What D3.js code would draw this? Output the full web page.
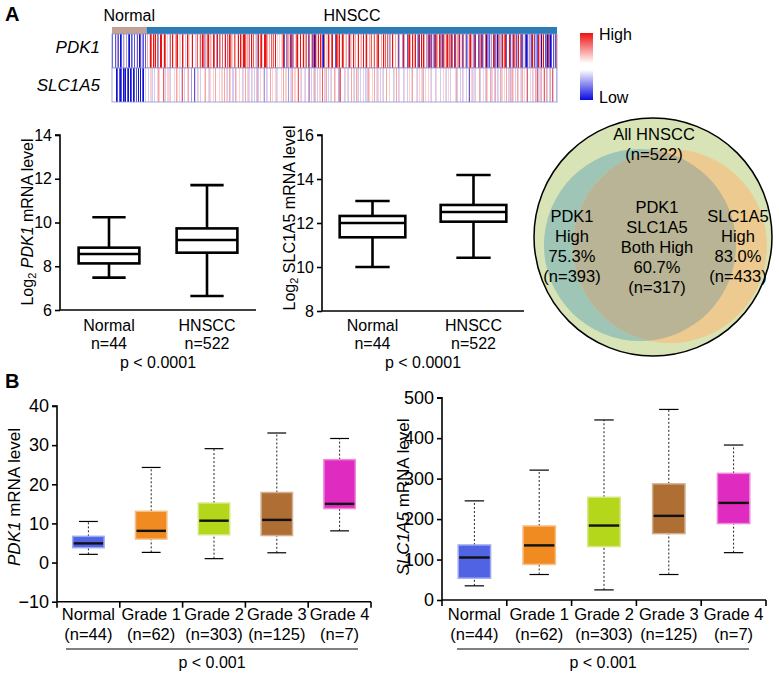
<!DOCTYPE html>
<html><head><meta charset="utf-8">
<script src="https://cdn.jsdelivr.net/npm/d3@7"></script>
<style>body{margin:0;background:#fff} svg{font-family:"Liberation Sans",Arial,sans-serif}</style>
</head><body><svg id="c" width="779" height="679"></svg>
<script>
// ---------- DATA ----------
const heatGroups = ["Normal", "HNSCC"];
const heatGenes = ["PDK1", "SLC1A5"];
// heatmap values per sample, 0 = low (blue), 4 = mid (white), 8 = high (red)
const pdk1Normal = "1424152414 0414251424 1404152414 2514041524 1414";
const slcNormal  = "4434401041 0414014041 0440104014 0140410414 0434";
const pdk1Tumor = "5645847485 6847424885 4586745453 7485546478 4575486543 4786548584 4635784575 4872645784 5654487428 8475647453 " +
  "8474587635 4786458548 6548874563 7848574456 5284768548 4876546478 5748645485 4567814782 6518172845 7815486458 " +
  "5867418746 8170846584 7861407457 5864578446 1874684548 7458642486 5478564758 4856487468 5746587457 8467854468 " +
  "4857647528 6487546475 1648428164 4157864185 6784215848 5186472618 1715261874 6487528164 5786172857 4817562815 " +
  "5187461725 7816527184 4617285164 1707261524 0817160725 6285178164 4817528716 1628471615 5170157261 8051627186 " +
  "1605814170 6170814158 17";
const slcTumor = "4434535344 3445565443 4754345535 3443454265 4544374534 4356445244 1454365434 5445634453 3544354644 4453455436 " +
  "4534465443 3456544354 4355467453 5443545343 4634574452 4435344645 5445735434 4543645534 2445364455 4537454344 " +
  "5434465243 4456354345 3547443564 4345534463 5443627454 4354453544 6445346453 4534454435 3465434546 4453544345 " +
  "5344364453 4445354634 3546443454 4354545364 4445343545 3464534454 4534454354 4443144545 5345443454 4454634453 " +
  "4345443545 1445354534 4546342454 4365444635 5436343545 6354454634 3564365443 4635453364 5463743454 3654634735 " +
  "4364537463 5436447345 43";

const aCats = ["Normal", "HNSCC"];
const aCounts = ["n=44", "n=522"];
const aPValue = "p < 0.0001";
// [min, q1, median, q3, max]
const pdk1A = [[7.48, 8.13, 8.56, 8.85, 10.24], [6.64, 8.62, 9.2, 9.73, 11.71]];
const slcA = [[10.0, 11.35, 12.0, 12.32, 13.0], [10.42, 12.06, 12.5, 12.82, 14.18]];
const pdk1ATicks = [6, 8, 10, 12, 14];
const slcATicks = [8, 10, 12, 14, 16];

const vennLabels = {
  all: ["All HNSCC", "(n=522)"],
  pdk1: ["PDK1", "High", "75.3%", "(n=393)"],
  both: ["PDK1", "SLC1A5", "Both High", "60.7%", "(n=317)"],
  slc: ["SLC1A5", "High", "83.0%", "(n=433)"]
};
const vennCounts = { all: 522, pdk1: 393, slc: 433, both: 317 };

const bCats = ["Normal", "Grade 1", "Grade 2", "Grade 3", "Grade 4"];
const bCounts = ["(n=44)", "(n=62)", "(n=303)", "(n=125)", "(n=7)"];
const bPValue = "p < 0.001";
const bColors = ["#4f63e3", "#f08b22", "#b4d61b", "#ae6e34", "#df2bbf"];
const pdk1B = [[2.1, 3.8, 4.9, 6.7, 10.5], [2.6, 6.0, 8.1, 13.1, 24.3], [1.0, 7.1, 10.7, 15.2, 29.1], [2.5, 6.9, 10.9, 17.9, 33.1], [8.1, 13.8, 15.0, 26.3, 31.7]];
const slcB = [[35, 54, 105, 136, 245], [63, 88, 135, 183, 321], [25, 132, 184, 254, 445], [63, 164, 208, 287, 471], [117, 189, 240, 313, 383]];
const pdk1BTicks = [-10, 0, 10, 20, 30, 40];
const slcBTicks = [0, 100, 200, 300, 400, 500];

// ---------- DRAW ----------
const svg = d3.select("#c");
const clean = s => s.replace(/\s/g, "").split("").map(Number);

// Panel letters
svg.append("text").attr("x", 5).attr("y", 21).attr("font-size", 20).attr("font-weight", "bold").text("A");
svg.append("text").attr("x", 5).attr("y", 388).attr("font-size", 20).attr("font-weight", "bold").text("B");

// Heatmap
(function () {
  const nNormal = clean(pdk1Normal).length;
  const rows = [clean(pdk1Normal).concat(clean(pdk1Tumor)), clean(slcNormal).concat(clean(slcTumor))];
  const nTotal = rows[0].length;
  const hx = d3.scaleLinear().domain([0, nTotal]).range([112, 557]);
  const hy = d3.scaleBand().domain(heatGenes).range([34, 102]);
  const hcol = d3.scaleLinear().domain([0, 2, 4, 6, 8]).range(["#1212cc", "#9c9cf2", "#ffffff", "#f7a6a6", "#e81414"]);
  const g = svg.append("g");
  g.append("rect").attr("x", hx(0)).attr("y", 27).attr("width", hx(nNormal) - hx(0)).attr("height", 7).attr("fill", "#c2a197");
  g.append("rect").attr("x", hx(nNormal)).attr("y", 27).attr("width", hx(nTotal) - hx(nNormal)).attr("height", 7).attr("fill", "#2a7bb8");
  g.append("text").attr("x", (hx(0) + hx(nNormal)) / 2).attr("y", 21).attr("text-anchor", "middle").attr("font-size", 16).text(heatGroups[0]);
  g.append("text").attr("x", 352).attr("y", 21).attr("text-anchor", "middle").attr("font-size", 16).text(heatGroups[1]);
  heatGenes.forEach((gene, r) => {
    g.append("g").attr("shape-rendering", "crispEdges").selectAll("rect").data(rows[r]).join("rect")
      .attr("x", (d, i) => hx(i)).attr("width", (d, i) => hx(i + 1) - hx(i) + 0.4)
      .attr("y", hy(gene)).attr("height", hy.bandwidth()).attr("fill", d => hcol(d));
    g.append("rect").attr("x", hx(0)).attr("y", hy(gene)).attr("width", hx(nTotal) - hx(0)).attr("height", hy.bandwidth())
      .attr("fill", "none").attr("stroke", "#8a96cc").attr("stroke-width", 0.8);
  });
  g.append("text").attr("x", 100).attr("y", 53).attr("text-anchor", "end").attr("font-size", 17).attr("font-style", "italic").text(heatGenes[0]);
  g.append("text").attr("x", 100).attr("y", 91).attr("text-anchor", "end").attr("font-size", 17).attr("font-style", "italic").text(heatGenes[1]);
  // legend
  const grad = svg.append("defs").append("linearGradient").attr("id", "lg").attr("x1", 0).attr("y1", 0).attr("x2", 0).attr("y2", 1);
  [[0, "#ee1111"], [0.45, "#ffffff"], [0.55, "#ffffff"], [1, "#0a0ae0"]].forEach(s => grad.append("stop").attr("offset", s[0]).attr("stop-color", s[1]));
  g.append("rect").attr("x", 580).attr("y", 33).attr("width", 13).attr("height", 67).attr("fill", "url(#lg)");
  g.append("text").attr("x", 599).attr("y", 40).attr("font-size", 16).text("High");
  g.append("text").attr("x", 599).attr("y", 103).attr("font-size", 16).text("Low");
})();

// Panel A box plots
function boxA(cfg) {
  const g = svg.append("g");
  const x = d3.scaleBand().domain(aCats).range([cfg.x0, cfg.x1]);
  const y = d3.scaleLinear().domain(d3.extent(cfg.ticks)).range([cfg.yb, cfg.yt]);
  const yAxis = d3.axisLeft(y).tickValues(cfg.ticks).tickSize(5).tickPadding(3);
  const ga = g.append("g").attr("transform", `translate(${cfg.x0},0)`).call(yAxis);
  ga.selectAll("path,line").attr("stroke", "#000").attr("stroke-width", 1.6);
  ga.select(".domain").attr("d", `M-5,${y(cfg.ticks[cfg.ticks.length-1])}H0V${cfg.yb}`);
  ga.selectAll("text").attr("font-size", 16).attr("font-family", "Liberation Sans, Arial, sans-serif").attr("fill", "#000");
  g.append("line").attr("x1", cfg.x0).attr("x2", cfg.x1).attr("y1", cfg.yb).attr("y2", cfg.yb).attr("stroke", "#000").attr("stroke-width", 1.6);
  const bw = x.bandwidth() * cfg.bwf, cw = x.bandwidth() * 0.34;
  cfg.data.forEach((d, i) => {
    const cx = x(aCats[i]) + x.bandwidth() / 2;
    const ln = (x1, y1, x2, y2) => g.append("line").attr("x1", x1).attr("y1", y1).attr("x2", x2).attr("y2", y2).attr("stroke", "#000").attr("stroke-width", 2.6);
    ln(cx, y(d[0]), cx, y(d[1])); ln(cx, y(d[3]), cx, y(d[4]));
    ln(cx - cw / 2, y(d[0]), cx + cw / 2, y(d[0])); ln(cx - cw / 2, y(d[4]), cx + cw / 2, y(d[4]));
    g.append("rect").attr("x", cx - bw / 2).attr("y", y(d[3])).attr("width", bw).attr("height", y(d[1]) - y(d[3]))
      .attr("fill", "#fff").attr("stroke", "#000").attr("stroke-width", 2.6);
    ln(cx - bw / 2, y(d[2]), cx + bw / 2, y(d[2]));
    g.append("text").attr("x", cx).attr("y", 331).attr("text-anchor", "middle").attr("font-size", 16).text(aCats[i]);
    g.append("text").attr("x", cx).attr("y", 349).attr("text-anchor", "middle").attr("font-size", 16).text(aCounts[i]);
  });
  g.append("text").attr("x", (x.range()[0] + x.range()[1]) / 2).attr("y", 368).attr("text-anchor", "middle").attr("font-size", 16).text(aPValue);
  const t = g.append("text").attr("transform", `translate(${cfg.lx},${cfg.ly}) rotate(-90)`).attr("text-anchor", "middle").attr("font-size", 16);
  t.append("tspan").text("Log");
  t.append("tspan").attr("font-size", 11).attr("dy", 3).text("2");
  t.append("tspan").attr("dy", -3).text(" ");
  t.append("tspan").attr("font-style", cfg.italic ? "italic" : "normal").text(cfg.gene);
  t.append("tspan").text(" mRNA level");
}
boxA({ x0: 60, x1: 256, yt: 135, yb: 310, ticks: pdk1ATicks, data: pdk1A, bwf: 0.62, lx: 33, ly: 222, gene: "PDK1", italic: true });
boxA({ x0: 322, x1: 524, yt: 135, yb: 311, ticks: slcATicks, data: slcA, bwf: 0.65, lx: 295, ly: 218, gene: "SLC1A5", italic: false });

// Venn
(function () {
  const g = svg.append("g");
  const rScale = d3.scaleSqrt().domain([0, vennCounts.all]).range([0, 119]);
  const outer = { cx: 653, cy: 237, r: rScale(vennCounts.all) };
  const blue = { cx: 640, cy: 245, r: rScale(vennCounts.pdk1) * 0.93 };
  const orng = { cx: 670, cy: 246, r: rScale(vennCounts.slc) * 0.895 };
  g.append("circle").attr("cx", outer.cx).attr("cy", outer.cy).attr("r", outer.r).attr("fill", "#d8e4b6");
  g.append("circle").attr("cx", blue.cx).attr("cy", blue.cy).attr("r", blue.r).attr("fill", "#9ec5b5");
  g.append("circle").attr("cx", orng.cx).attr("cy", orng.cy).attr("r", orng.r).attr("fill", "#edca90");
  g.append("clipPath").attr("id", "cpO").append("circle").attr("cx", orng.cx).attr("cy", orng.cy).attr("r", orng.r);
  g.append("circle").attr("cx", blue.cx).attr("cy", blue.cy).attr("r", blue.r).attr("fill", "#b8b495").attr("clip-path", "url(#cpO)");
  g.append("circle").attr("cx", outer.cx).attr("cy", outer.cy).attr("r", outer.r).attr("fill", "none").attr("stroke", "#000").attr("stroke-width", 1.5);
  const lines = (arr, x, y0) => arr.forEach((s, i) => g.append("text").attr("x", x).attr("y", y0 + i * 20).attr("text-anchor", "middle").attr("font-size", 16.5).text(s));
  lines(vennLabels.all, 654, 140);
  lines(vennLabels.pdk1, 572, 222);
  lines(vennLabels.both, 657, 213);
  lines(vennLabels.slc, 738, 222);
})();

// Panel B box plots
function boxB(cfg) {
  const g = svg.append("g");
  const x = d3.scaleBand().domain(bCats).range([cfg.x0, cfg.x1]);
  const y = d3.scaleLinear().domain(d3.extent(cfg.ticks)).range([cfg.yb, cfg.yt]);
  const ga = g.append("g").attr("transform", `translate(${cfg.x0},0)`).call(d3.axisLeft(y).tickValues(cfg.ticks).tickSize(5).tickPadding(3));
  ga.selectAll("path,line").attr("stroke", "#000").attr("stroke-width", 1.6);
  ga.select(".domain").attr("d", `M-5,${cfg.yt}H0V${cfg.yb}`);
  ga.selectAll("text").attr("font-size", 18).attr("font-family", "Liberation Sans, Arial, sans-serif").attr("fill", "#000");
  const gx = g.append("g").attr("transform", `translate(0,${cfg.yb})`);
  gx.append("line").attr("x1", cfg.x0).attr("x2", cfg.x1).attr("stroke", "#000").attr("stroke-width", 1.6);
  bCats.concat([null]).forEach(c => {
    const xx = c ? x(c) : cfg.x1;
    gx.append("line").attr("x1", xx).attr("x2", xx).attr("y1", 0).attr("y2", 6).attr("stroke", "#000").attr("stroke-width", 1.6);
  });
  const bw = x.bandwidth() * 0.5, cw = x.bandwidth() * 0.3;
  cfg.data.forEach((d, i) => {
    const cx = x(bCats[i]) + x.bandwidth() / 2;
    g.append("line").attr("x1", cx).attr("x2", cx).attr("y1", y(d[0])).attr("y2", y(d[1])).attr("stroke", "#222").attr("stroke-width", 1).attr("stroke-dasharray", "2,2");
    g.append("line").attr("x1", cx).attr("x2", cx).attr("y1", y(d[3])).attr("y2", y(d[4])).attr("stroke", "#222").attr("stroke-width", 1).attr("stroke-dasharray", "2,2");
    [d[0], d[4]].forEach(v => g.append("line").attr("x1", cx - cw / 2).attr("x2", cx + cw / 2).attr("y1", y(v)).attr("y2", y(v)).attr("stroke", "#000").attr("stroke-width", 1.2));
    g.append("rect").attr("x", cx - bw / 2).attr("y", y(d[3])).attr("width", bw).attr("height", y(d[1]) - y(d[3]))
      .attr("fill", bColors[i]).attr("stroke", d3.interpolateRgb(bColors[i], "#fff")(0.45)).attr("stroke-width", 1.5);
    g.append("line").attr("x1", cx - bw / 2 + 1).attr("x2", cx + bw / 2 - 1).attr("y1", y(d[2])).attr("y2", y(d[2])).attr("stroke", "#111").attr("stroke-width", 2.4);
    g.append("text").attr("x", cx).attr("y", 620).attr("text-anchor", "middle").attr("font-size", 16.5).text(bCats[i]);
    g.append("text").attr("x", cx).attr("y", 640).attr("text-anchor", "middle").attr("font-size", 16.5).text(bCounts[i]);
  });
  g.append("line").attr("x1", cfg.lx0).attr("x2", cfg.lx1).attr("y1", 649).attr("y2", 649).attr("stroke", "#000").attr("stroke-width", 1);
  g.append("text").attr("x", (cfg.lx0 + cfg.lx1) / 2).attr("y", 668).attr("text-anchor", "middle").attr("font-size", 16).text(bPValue);
  const t = g.append("text").attr("transform", `translate(${cfg.tx},497) rotate(-90)`).attr("text-anchor", "middle").attr("font-size", 17);
  t.append("tspan").attr("font-style", "italic").text(cfg.gene);
  t.append("tspan").text(" mRNA level");
}
boxB({ x0: 57, x1: 371, yt: 406, yb: 601.7, ticks: pdk1BTicks, data: pdk1B, lx0: 66, lx1: 358, tx: 20, gene: "PDK1" });
boxB({ x0: 442, x1: 766, yt: 397.7, yb: 600, ticks: slcBTicks, data: slcB, lx0: 457, lx1: 749, tx: 409, gene: "SLC1A5" });
</script></body></html>
